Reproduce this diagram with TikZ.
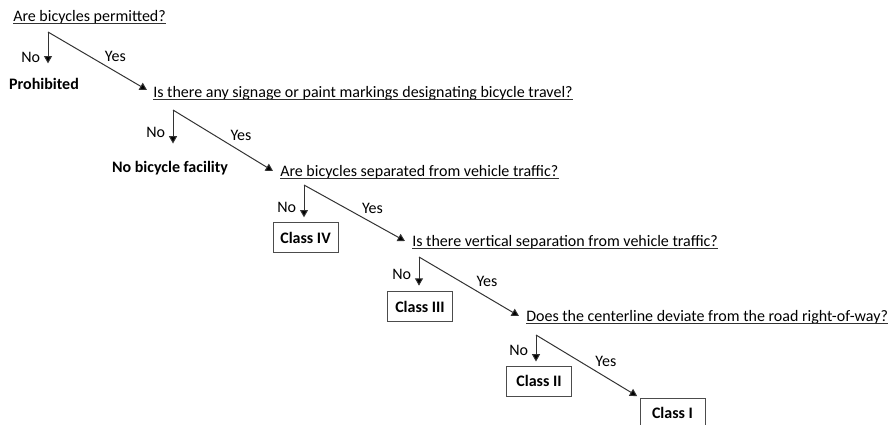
\documentclass[tikz,border=0pt]{standalone}
\usepackage{fontspec}
\setmainfont{Carlito}
\usetikzlibrary{arrows.meta}
\tikzstyle{question} = [anchor=base west, inner sep=0pt, font=\fontsize{12}{14}\selectfont]
\tikzstyle{outcome} = [inner sep=0pt, font=\fontsize{12}{14}\selectfont\bfseries]
\tikzstyle{classbox} = [rectangle, minimum width=48.75pt, minimum height=22.5pt, text centered, draw=black!70, line width=0.75pt, font=\fontsize{12}{14}\selectfont\bfseries]
\tikzstyle{answer} = [inner sep=1.5pt, font=\fontsize{12}{14}\selectfont]
\tikzstyle{arrow} = [draw=black!80, line width=0.75pt, -{Triangle[length=5.5pt,width=6pt,fill=black]}]
\tikzstyle{underline} = [draw=black!80, line width=0.6pt]

\begin{document}
\begin{tikzpicture}[x=0.75pt, y=-0.75pt]
\useasboundingbox (0,0) rectangle (893,425);

% Questions
\node (q1) [question] at (13,21) {Are bicycles permitted?};
\node (q2) [question] at (153,97) {Is there any signage or paint markings designating bicycle travel?};
\node (q3) [question] at (280,176) {Are bicycles separated from vehicle traffic?};
\node (q4) [question] at (412,246) {Is there vertical separation from vehicle traffic?};
\node (q5) [question] at (526,321) {Does the centerline deviate from the road right-of-way?};
\foreach \q in {q1,q2,q3,q4,q5}
  \draw [underline] ([yshift=-1.8pt]\q.base west) -- ([yshift=-1.8pt]\q.base east);

% Branch points
\coordinate (b1) at (48,32);
\coordinate (b2) at (173,110);
\coordinate (b3) at (304,185);
\coordinate (b4) at (419,257);
\coordinate (b5) at (536,335);

% Outcomes
\node (prohib) [outcome] at (44,84) {Prohibited};
\node (nofacility) [outcome] at (170,168) {No bicycle facility};
\node (class4) [classbox] at (305.5,237.5) {Class IV};
\node (class3) [classbox] at (420,306.5) {Class III};
\node (class2) [classbox] at (539,381) {Class II};
\node (class1) [classbox] at (672.5,413) {Class I};

% Arrows
\draw [arrow, shorten >=11pt] (b1) -- (b1 |- prohib.north) node[answer, pos=0.55, left=4pt] {No};
\draw [arrow] (b1) -- ([shift={(-6,-7)}]q2.base west) node[answer, pos=0.55, above right] {Yes};
\draw [arrow, shorten >=13pt] (b2) -- (b2 |- nofacility.north) node[answer, pos=0.45, left=4pt] {No};
\draw [arrow] (b2) -- ([shift={(-7,-5)}]q3.base west) node[answer, pos=0.55, above right] {Yes};
\draw [arrow, shorten >=3.5pt] (b3) -- (b3 |- class4.north) node[answer, pos=0.6, left=4pt] {No};
\draw [arrow] (b3) -- ([shift={(-7,-5)}]q4.base west) node[answer, pos=0.55, above right] {Yes};
\draw [arrow, shorten >=4pt] (b4) -- (b4 |- class3.north) node[answer, pos=0.5, left=4pt] {No};
\draw [arrow] (b4) -- ([shift={(-7,-5)}]q5.base west) node[answer, pos=0.55, above right] {Yes};
\draw [arrow, shorten >=3pt] (b5) -- (b5 |- class2.north) node[answer, pos=0.5, left=4pt] {No};
\draw [arrow, shorten >=2pt] (b5) -- (class1.north west) node[answer, pos=0.55, above right] {Yes};

\end{tikzpicture}
\end{document}
